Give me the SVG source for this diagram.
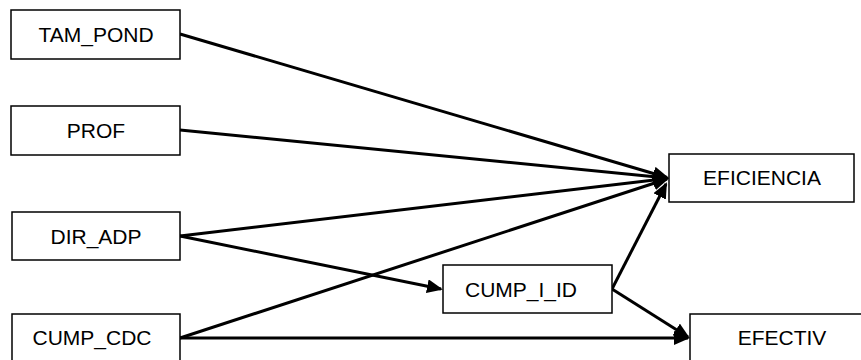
<svg xmlns="http://www.w3.org/2000/svg" width="861" height="360" viewBox="0 0 861 360">
  <style>
    .box { fill: #ffffff; stroke: #000000; stroke-width: 1.5; }
    .lbl { font-family: "Liberation Sans", Arial, sans-serif; font-size: 21px; fill: #000000; text-anchor: middle; }
    .edge { stroke: #000000; stroke-width: 3; fill: none; marker-end: url(#arrow); }
  </style>
  <defs>
    <marker id="arrow" viewBox="0 0 16 14" refX="14" refY="7" markerWidth="16" markerHeight="14" markerUnits="userSpaceOnUse" orient="auto">
      <path d="M0,0 L16,7 L0,14 z" fill="#000000"/>
    </marker>
  </defs>
  <rect width="861" height="360" fill="#ffffff"/>

  <g id="connectors">
    <line class="edge" x1="180" y1="34" x2="667" y2="177.5"/>
    <line class="edge" x1="180" y1="130" x2="667" y2="178"/>
    <line class="edge" x1="180" y1="236" x2="667" y2="178.5"/>
    <line class="edge" x1="180" y1="236" x2="441" y2="289"/>
    <line class="edge" x1="180" y1="338" x2="667" y2="179"/>
    <line class="edge" x1="180" y1="338" x2="688" y2="338"/>
    <line class="edge" x1="612" y1="289" x2="666" y2="184"/>
    <line class="edge" x1="612" y1="289" x2="688" y2="337"/>
  </g>

  <g id="TAM_POND">
    <rect class="box" x="11" y="10" width="169" height="49"/>
    <text class="lbl" x="96" y="42">TAM_POND</text>
  </g>
  <g id="PROF">
    <rect class="box" x="11" y="106" width="169" height="49"/>
    <text class="lbl" x="96" y="138">PROF</text>
  </g>
  <g id="DIR_ADP">
    <rect class="box" x="12" y="212" width="168" height="48"/>
    <text class="lbl" x="96" y="244">DIR_ADP</text>
  </g>
  <g id="CUMP_CDC">
    <rect class="box" x="12" y="314" width="168" height="49"/>
    <text class="lbl" x="92" y="345">CUMP_CDC</text>
  </g>
  <g id="CUMP_I_ID">
    <rect class="box" x="443" y="265" width="169" height="48"/>
    <text class="lbl" x="521" y="297">CUMP_I_ID</text>
  </g>
  <g id="EFICIENCIA">
    <rect class="box" x="669" y="154" width="185" height="48"/>
    <text class="lbl" x="762" y="185">EFICIENCIA</text>
  </g>
  <g id="EFECTIV">
    <rect class="box" x="690" y="314" width="175" height="49"/>
    <text class="lbl" x="782" y="345">EFECTIV</text>
  </g>
</svg>
